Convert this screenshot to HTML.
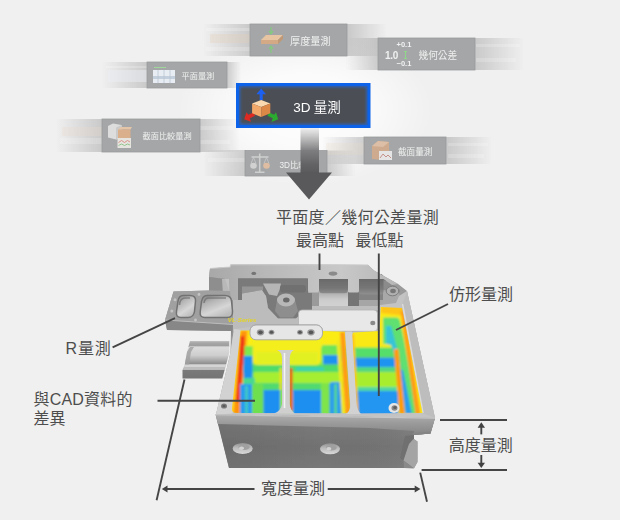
<!DOCTYPE html>
<html lang="zh-Hant"><head><meta charset="utf-8"><title>3D 量測</title>
<style>
html,body{margin:0;padding:0;background:#f0f0f0;}
#c{position:relative;width:620px;height:520px;overflow:hidden;background:#f0f0f0;}
svg{display:block;position:absolute;left:0;top:0;}
text{font-family:"Liberation Sans","Noto Sans CJK TC",sans-serif;}
.lb{font-size:16px;fill:#4d4d4d;}
.tl{font-size:10px;fill:#f0f0f0;filter:url(#b0);}
.ld{stroke:#454545;stroke-width:1.9;fill:none;}
</style></head><body><div id="c">
<svg width="620" height="520" viewBox="0 0 620 520">
<defs>
<radialGradient id="glow" cx="0.5" cy="0.5" r="0.5"><stop offset="0" stop-color="#fff" stop-opacity="1"/><stop offset="0.5" stop-color="#fff" stop-opacity="0.7"/><stop offset="1" stop-color="#fff" stop-opacity="0"/></radialGradient>
<linearGradient id="trL" x1="0" x2="1"><stop offset="0" stop-color="#9a9a9a" stop-opacity="0"/><stop offset="1" stop-color="#9a9a9a" stop-opacity="0.46"/></linearGradient>
<linearGradient id="trR" x1="0" x2="1"><stop offset="0" stop-color="#9a9a9a" stop-opacity="0.46"/><stop offset="1" stop-color="#9a9a9a" stop-opacity="0"/></linearGradient>
<linearGradient id="shaft" x1="0" x2="0" y1="0" y2="1"><stop offset="0" stop-color="#6a6a6c" stop-opacity="0"/><stop offset="0.12" stop-color="#808082" stop-opacity="0.25"/><stop offset="0.5" stop-color="#7c7c7e" stop-opacity="0.95"/><stop offset="0.8" stop-color="#636365" stop-opacity="1"/><stop offset="1" stop-color="#59595b" stop-opacity="1"/></linearGradient>
<filter id="b0" x="-10%" y="-10%" width="120%" height="120%"><feGaussianBlur stdDeviation="0.3"/></filter>
<filter id="b1" x="-10%" y="-10%" width="120%" height="120%"><feGaussianBlur stdDeviation="0.5"/></filter>
<filter id="b2" x="-10%" y="-10%" width="120%" height="120%"><feGaussianBlur stdDeviation="1.2"/></filter>
<filter id="b3" x="-20%" y="-20%" width="140%" height="140%"><feGaussianBlur stdDeviation="2.5"/></filter>
<marker id="ah" viewBox="0 0 10 10" refX="9" refY="5" markerWidth="7" markerHeight="7" orient="auto-start-reverse"><path d="M0,0.8 L10,5 L0,9.2 z" fill="#3c3c3c"/></marker>
</defs>
<rect width="620" height="520" fill="#f0f0f0"/>
<ellipse cx="305" cy="110" rx="128" ry="76" fill="url(#glow)"/>
<g id="tiles">
<!-- trails: faint stripes -->
<g filter="url(#b1)">
<!-- tile1 trails -->
<rect x="203" y="24" width="48" height="32" fill="url(#trL)"/>
<rect x="347" y="24" width="40" height="32" fill="url(#trR)"/>
<rect x="210" y="34" width="41" height="9" fill="#e6cdb2" opacity="0.3"/>
<rect x="206" y="28" width="44" height="3" fill="#fff" opacity="0.2"/>
<rect x="206" y="47" width="44" height="4" fill="#fff" opacity="0.18"/>
<!-- tile2 trails -->
<rect x="346" y="38" width="33" height="32" fill="url(#trL)"/>
<rect x="474" y="38" width="50" height="32" fill="url(#trR)"/>
<rect x="476" y="44" width="44" height="3" fill="#fff" opacity="0.18"/>
<rect x="476" y="58" width="40" height="4" fill="#fff" opacity="0.18"/>
<!-- tile3 trails -->
<rect x="102" y="62" width="46" height="26" fill="url(#trL)"/>
<rect x="227" y="62" width="14" height="26" fill="url(#trR)"/>
<rect x="108" y="70" width="40" height="12" fill="#e9eef4" opacity="0.5"/>
<rect x="106" y="66" width="42" height="2" fill="#fff" opacity="0.2"/>
<!-- tile4 trails -->
<rect x="56" y="119" width="47" height="33" fill="url(#trL)"/>
<rect x="200" y="119" width="40" height="33" fill="url(#trR)"/>
<rect x="62" y="127" width="41" height="9" fill="#ead8c6" opacity="0.28"/>
<rect x="60" y="138" width="44" height="6" fill="#fff" opacity="0.18"/>
<rect x="200" y="126" width="34" height="4" fill="#fff" opacity="0.18"/>
<rect x="200" y="140" width="30" height="4" fill="#fff" opacity="0.18"/>
<!-- tile5 trails -->
<rect x="203" y="150" width="43" height="26" fill="url(#trL)"/>
<rect x="327" y="150.500" width="28" height="25.500" fill="url(#trR)"/>
<rect x="208" y="158" width="38" height="4" fill="#fff" opacity="0.18"/>
<!-- tile6 trails -->
<rect x="322" y="137" width="43" height="27" fill="url(#trL)"/>
<rect x="446" y="137" width="46" height="27" fill="url(#trR)"/>
<rect x="326" y="143" width="39" height="12" fill="#ead6c2" opacity="0.22"/>
<rect x="448" y="143" width="40" height="3" fill="#fff" opacity="0.18"/>
<rect x="448" y="154" width="36" height="4" fill="#fff" opacity="0.18"/>
</g>
<!-- tile bodies -->
<g stroke="#9a9c9d" stroke-width="0.8" fill="#a4a6a7">
<rect x="250" y="24" width="97" height="32"/>
<rect x="378" y="38" width="97" height="32"/>
<rect x="147" y="62" width="80" height="26"/>
<rect x="102" y="119" width="98" height="33"/>
<rect x="245" y="150.500" width="82" height="25.500"/>
<rect x="364" y="137" width="82" height="27"/>
</g>
<!-- tile1 icon: slab + green arrows -->
<g filter="url(#b1)" opacity="0.9">
<path d="M261,40 L266,35 L283,35 L278,40 z" fill="#efc9a3"/>
<path d="M261,40 L278,40 L278,44 L261,44 z" fill="#d9ab82"/>
<path d="M278,40 L283,35 L283,39 L278,44 z" fill="#c4976f"/>
<path d="M271,27 v6 M269,31 l2,3 l2,-3" stroke="#7fcf7a" stroke-width="1.2" fill="none"/>
<path d="M271,53 v-6 M269,49 l2,-3 l2,3" stroke="#7fcf7a" stroke-width="1.2" fill="none"/>
</g>
<text class="tl" x="290" y="45.3" style="font-size:10.2px">厚度量測</text>
<!-- tile2 -->
<text class="tl" x="385" y="58.6" style="font-size:10px;font-weight:bold;letter-spacing:-0.3px">1.0</text>
<text class="tl" x="396.5" y="47.2" style="font-size:7.5px;font-weight:bold">+0.1</text>
<text class="tl" x="396.5" y="66" style="font-size:7.5px;font-weight:bold">−0.1</text>
<path d="M405.5,51.5 v7 M404,51.5 h3 M404,58.5 h3" stroke="#8fd68a" stroke-width="1" fill="none"/>
<text class="tl" x="418.5" y="59" style="font-size:9.7px">幾何公差</text>
<!-- tile3 icon -->
<g filter="url(#b1)">
<rect x="153" y="70" width="22" height="13" fill="#e8edf3"/>
<rect x="153" y="76" width="22" height="3" fill="#c3cfdd"/>
<path d="M154,67.5 h12" stroke="#9fd89a" stroke-width="1"/>
<path d="M158,70 v13 M164,70 v13 M170,70 v13" stroke="#b9c4d0" stroke-width="0.8"/>
</g>
<text class="tl" x="181.5" y="79" style="font-size:8.2px">平面量測</text>
<!-- tile4 icon -->
<g filter="url(#b1)" opacity="0.9">
<path d="M108,126 L113,123.500 L121.500,125 L121.500,137 L116,139.500 L108,137.500 z" fill="#e4e4e4"/>
<path d="M116,127.500 L121.500,125 L121.500,137 L116,139.500 z" fill="#cfcfcf"/>
<path d="M118,129.500 L121,127 L132,127 L130.500,129.500 z" fill="#edc9a8"/>
<rect x="118" y="129.500" width="12.500" height="10" fill="#dfb08a"/>
<rect x="117.500" y="138" width="13.500" height="10" fill="#eeebe6"/>
<path d="M118.500,142.500 l3,-2 l3,2 l3,-2 l2.500,1.500" stroke="#dc857c" stroke-width="0.900" fill="none"/>
<path d="M118.500,145.500 l3,-1.500 l3,1.500 l3,-1.500 l2.500,1" stroke="#86c581" stroke-width="0.900" fill="none"/>
</g>
<text class="tl" x="142.5" y="139" style="font-size:8.2px">截面比較量測</text>
<!-- tile5 icon: balance -->
<g filter="url(#b1)" stroke="#d4d4d4" fill="none" stroke-width="1.500" opacity="0.9">
<path d="M259.700,153.500 v18 M255,172.300 h9.500 M251.500,157 h17"/>
<path d="M253.500,157.500 l-2.500,6 M253.500,157.500 l2.500,6 M266.500,157.500 l-2.500,6 M266.500,157.500 l2.500,6" stroke-width="0.700"/>
<ellipse cx="253.500" cy="165.800" rx="3.300" ry="3" fill="#d6d6d6" stroke="none"/>
<ellipse cx="266.500" cy="165.800" rx="3.300" ry="3" fill="#e6c0a2" stroke="none"/>
</g>
<text class="tl" x="279.5" y="168" style="font-size:8.2px">3D比較</text>
<!-- tile6 icon -->
<g filter="url(#b1)" opacity="0.85">
<path d="M372,146 l6,-5 l11,1 v13 l-6,5 l-11,-1 z" fill="#d6ad8a"/>
<path d="M372,146 l11,1 l6,-5 l-11,-1 z" fill="#e6c4a6"/>
<rect x="379" y="151" width="13" height="9" fill="#f1f1f1"/>
<path d="M380,158 l3,-4 l3,3 l2,-2 l3,3" stroke="#c9827a" stroke-width="0.9" fill="none"/>
</g>
<text class="tl" x="398" y="155.2" style="font-size:8.6px">截面量測</text>
</g>
<g id="arrow">
<rect x="300.5" y="126" width="18.5" height="48" fill="url(#shaft)"/>
<path d="M286,172.5 L332,172.5 L309,199.5 z" fill="#59595b"/>
</g>
<g id="tile3d">
<rect x="236" y="83" width="134.5" height="45" fill="#0d63ea"/>
<rect x="239" y="86" width="128.5" height="39" fill="#2f5fae"/>
<rect x="240.5" y="87.5" width="125.500" height="36" rx="2" fill="#4b5054" filter="url(#b2)"/>
<rect x="245" y="92" width="116.500" height="27" fill="#4b5054" filter="url(#b1)"/>
<!-- icon -->
<g filter="url(#b1)">
<path d="M261.200,88.400 L256.400,94.200 L259.700,94.200 L259.700,100 L262.700,100 L262.700,94.200 L266,94.200 z" fill="#1c60f2"/>
<path d="M244.200,119.200 L246.500,112.300 L248.300,114.800 L253.500,112.600 L255,115.800 L249.800,118.200 L251,121.800 z" fill="#dc2a22"/>
<path d="M278.200,119.200 L276,112.300 L274.200,114.800 L269,112.600 L267.500,115.800 L272.700,118.200 L271.500,122 z" fill="#2aaa2e"/>
<path d="M252.100,103.600 L261.200,99.900 L270.300,103.600 L261.200,107 z" fill="#fbd9b0"/>
<path d="M252.100,103.600 L261.200,107 L261.200,117 L252.100,113.300 z" fill="#f2a868"/>
<path d="M270.300,103.600 L261.200,107 L261.200,117 L270.300,113.300 z" fill="#de8846"/>
</g>
<text x="293.200" y="112.400" style="font-size:13.500px;fill:#fff;word-spacing:-0.500px">3D 量測</text>
</g>
<g id="part">
<defs>
<linearGradient id="gTop" x1="0" x2="1"><stop offset="0" stop-color="#a8a8a8"/><stop offset="0.3" stop-color="#b8b8b8"/><stop offset="0.7" stop-color="#c8c8c8"/><stop offset="1" stop-color="#b6b6b6"/></linearGradient>
<linearGradient id="gPipe" x1="0" x2="1"><stop offset="0" stop-color="#bdbdbd"/><stop offset="0.12" stop-color="#dedede"/><stop offset="0.3" stop-color="#a8a8a8"/><stop offset="0.55" stop-color="#7a7a7a"/><stop offset="0.8" stop-color="#b5b5b5"/><stop offset="1" stop-color="#8f8f8f"/></linearGradient>
<linearGradient id="gPipeV" gradientUnits="userSpaceOnUse" x1="0" x2="0" y1="341" y2="378.400"><stop offset="0" stop-color="#acacac"/><stop offset="0.15" stop-color="#9c9c9c"/><stop offset="0.16" stop-color="#dcdcdc"/><stop offset="0.38" stop-color="#cfcfcf"/><stop offset="0.62" stop-color="#8c8c8c"/><stop offset="0.63" stop-color="#cdcdcd"/><stop offset="0.77" stop-color="#b0b0b0"/><stop offset="0.78" stop-color="#7a7a7a"/><stop offset="1" stop-color="#747474"/></linearGradient>
<linearGradient id="gFace" x1="0" x2="0" y1="0" y2="1"><stop offset="0" stop-color="#808080"/><stop offset="0.2" stop-color="#7a7a7a"/><stop offset="0.6" stop-color="#727272"/><stop offset="1" stop-color="#787878"/></linearGradient>
<linearGradient id="gFaceH" x1="0" x2="1"><stop offset="0" stop-color="#000" stop-opacity="0.07"/><stop offset="0.5" stop-color="#000" stop-opacity="0"/><stop offset="1" stop-color="#fff" stop-opacity="0.08"/></linearGradient>
<linearGradient id="gBand" gradientUnits="userSpaceOnUse" x1="0" x2="0" y1="415" y2="432"><stop offset="0" stop-color="#adadad"/><stop offset="0.5" stop-color="#9a9a9a"/><stop offset="1" stop-color="#8a8a8a"/></linearGradient>
<linearGradient id="gRec" gradientUnits="userSpaceOnUse" x1="0" x2="0" y1="279" y2="294"><stop offset="0" stop-color="#6a6a6a"/><stop offset="0.6" stop-color="#767676"/><stop offset="1" stop-color="#8e8e8e"/></linearGradient>
<linearGradient id="gFl" gradientUnits="userSpaceOnUse" x1="0" x2="0" y1="293" y2="310"><stop offset="0" stop-color="#b0b0b0"/><stop offset="0.4" stop-color="#cdcdcd"/><stop offset="1" stop-color="#d4d4d4"/></linearGradient>
<linearGradient id="gHole" x1="0" x2="0" y1="0" y2="1"><stop offset="0" stop-color="#909090"/><stop offset="0.45" stop-color="#bcbcbc"/><stop offset="1" stop-color="#d8d8d8"/></linearGradient>
<linearGradient id="gPk" x1="0" x2="0.6" y1="0" y2="1"><stop offset="0" stop-color="#7c7c7c"/><stop offset="0.35" stop-color="#b4b4b4"/><stop offset="0.7" stop-color="#d6d6d6"/><stop offset="1" stop-color="#bcbcbc"/></linearGradient>
<clipPath id="cpL"><path d="M240.500,330.500 L322,331 L344.800,331.800 L350.800,413.300 L236,413 Q231.500,413 232,408 z"/></clipPath>
<clipPath id="cpR"><path d="M354,332.500 L379.600,331 L380.800,307 L402,308 L408,338 L422.500,413 L360,413.500 Q356.500,413 356.300,409 L352,337 Q352,332.500 354,332.500 z"/></clipPath>
</defs>
<g filter="url(#b1)">
<!-- silhouette base -->
<path d="M210,268.500 L230,267 L231,264.500 L368,265 L374,270.500 L398,284 L407,291 L435,418 L430.500,433.500 L414,435 L414,439 L417.500,441.600 L417.500,462 L414,468 L229,468 L216,414.500 L230.500,352.700 L231,331 L167,330 L165,320 L173.500,291.500 L209,290.500 L209,277 z" fill="#9a9a9a"/>
<!-- back block: recess walls -->
<rect x="236" y="277" width="150" height="18" fill="#757575"/>
<path d="M381,279 L392,284 L400,290 L398,300 L381,300 z" fill="#8b8b8b"/>
<!-- floors below recesses -->
<rect x="319" y="288" width="30" height="22.500" fill="url(#gFl)"/>
<rect x="359" y="288" width="24" height="20" fill="#838383"/>
<path d="M383,290 L399,292 L402,308 L383,308 z" fill="#a8a8a8"/>
<rect x="308" y="292" width="11" height="18" fill="#9a9a9a"/>
<rect x="348" y="292" width="11" height="14.500" fill="#747474"/>
<rect x="300" y="293" width="9" height="17" fill="#8d8d8d"/>
<rect x="319" y="274" width="29" height="19.300" rx="3.500" fill="url(#gRec)"/>
<rect x="359" y="274" width="24.500" height="20.500" rx="3.500" fill="url(#gRec)"/>
<path d="M359,300 H383 V308 H359 z" fill="#a6a6a6"/>
<rect x="299" y="306" width="84" height="4.500" fill="#bebebe"/>
<!-- top surface with teeth -->
<path d="M210,268.500 L230,267 L231,264.500 L368,265 L374,270.500 L398,284 L392,285 L383.500,279 L359,279 L359,291 Q359,292.500 357.500,292.500 L349.500,292.500 Q348,292.500 348,291 L348,279 L319,279 L319,291 Q319,292.500 317.500,292.500 L309.500,292.500 Q308,292.500 308,291 L308,278.500 L238,278.500 L238,300 L229,300 L225,279 L209,277 z" fill="url(#gTop)"/>
<path d="M210,268.500 L230,267 L231,264.500 L368,265" stroke="#c9c9c9" stroke-width="1.200" fill="none"/>
<ellipse cx="253.800" cy="273.400" rx="2.400" ry="1.600" fill="#757575"/>
<ellipse cx="333" cy="273.600" rx="4.300" ry="2.100" fill="#8a8a8a"/>
<!-- block left end face -->
<path d="M209,277 L225,279 L229,291 L209,290.500 z" fill="#8e8e8e"/>
<!-- lug right -->
<ellipse cx="392.500" cy="291" rx="6.300" ry="4.800" fill="#b0b0b0" stroke="#7c7c7c" stroke-width="1"/>
<ellipse cx="393" cy="291" rx="2.800" ry="2.200" fill="#777"/>
<!-- mid-left section -->
<path d="M238,278.500 L307.500,278.500 L307.500,293 L312,293 L312,311 L304,311 L296,318.500 L278,318.500 L268,308 L266,296 L262,290 L242,293 L242,300 L238,300 z" fill="#7a7a7a"/>
<path d="M242,286.500 L263,286.500 L263,290 L242,293.500 z" fill="#959595"/>
<path d="M263,283.500 L281,283.500 L279.500,290 L277,296 L269,294.500 z" fill="#b6b6b6"/>
<rect x="280" y="285" width="26" height="7.500" rx="3" fill="#707070"/>
<path d="M277,300 L295,300 L298,311 L293,317.500 L280,317.500 L275,311 z" fill="#8e8e8e"/>
<ellipse cx="286" cy="300" rx="9" ry="6.500" fill="#b8b8b8"/>
<ellipse cx="286.300" cy="300" rx="3.300" ry="2.500" fill="#6a6a6a"/>
<!-- plateau VL -->
<path d="M233,300 L242,300 L242,293.500 L262,290 L266,296 L268,308 L278,318.500 L296,318.500 L304,311 L312,311 L312,326 L300,327.500 L255,326.500 L240,331 L233,331 z" fill="#bcbcbc"/>
<path d="M222,279 L229,279 L230,312 L224,312 z" fill="#cacaca" opacity="0.700"/>
<!-- left tab -->
<path d="M173.500,291.500 L209,290.500 L230,291 L233,324.500 L165,320 z" fill="#a0a0a0"/>
<path d="M165,320 L233,324.500 L232,338 L231,331 L167,330 z" fill="#878787"/>
<path d="M165,320 L233,324.500" stroke="#bdbdbd" stroke-width="1"/>
<path d="M183,295.500 L190,295.500 Q196,295.500 195.500,301 L194.500,311.500 Q193.500,317.500 188,317.500 L181,317.500 Q175.500,317.500 176.500,311.500 L178,301 Q179,295.500 183,295.500 z" fill="url(#gPk)" stroke="#727272" stroke-width="1.500"/>
<path d="M179.500,305 Q180,298 185,298 L190,298" stroke="#6c6c6c" stroke-width="1.600" fill="none" opacity="0.700"/>
<path d="M207,295.500 L225,295.500 Q231,295.500 231.500,301 L232.500,311 Q233,317.500 227,317.500 L205,317.500 Q199.500,317.500 200.200,312 L201.500,301.500 Q202.500,295.500 207,295.500 z" fill="url(#gPk)" stroke="#727272" stroke-width="1.500"/>
<path d="M204,303 Q204.500,298 209,298 L226,298" stroke="#6c6c6c" stroke-width="1.600" fill="none" opacity="0.700"/>
<circle cx="175" cy="299.700" r="1.500" fill="#c4c4c4"/><circle cx="171.800" cy="311" r="1.500" fill="#c4c4c4"/><circle cx="199" cy="294.500" r="1.400" fill="#c4c4c4"/><circle cx="195.500" cy="320" r="1.400" fill="#c4c4c4"/>
<!-- half pipe -->
<path d="M190,341 L229.200,341 L229.200,353 L226,365 L222.300,378.400 L182.500,378.400 L182.500,370 L184.800,364.600 L187,352 z" fill="url(#gPipeV)"/>
<path d="M189.300,346.600 H229" stroke="#d0d0d0" stroke-width="0.900"/>
<path d="M190,341.700 H229" stroke="#c2c2c2" stroke-width="0.900"/>
<path d="M184.500,366 H225.500" stroke="#dadada" stroke-width="1.300"/>
<path d="M183.500,369 H224.500" stroke="#c4c4c4" stroke-width="1"/>
<path d="M190,347 L187,352 L184.800,364.600 L189,364.600 L191,352 L194,347 z" fill="#a0a0a0" opacity="0.800"/>
<!-- main rim top -->
<path d="M234,329 L230.500,352.700 L216,414.500 L435,418 L407,291 L399,296 L396,303 L380,305 L378,330 L346,332 L322,327 L250,327 z" fill="#c3c3c3"/>
<path d="M407,291 L435,418 L422,413 L401.500,307 z" fill="#bdbdbd"/>
<path d="M234,329 L230.500,352.700 L216,414.500 L232.500,413.500 L241,330 z" fill="#d2d2d2"/>
<path d="M402.500,304 L423,413" stroke="#dadada" stroke-width="1.600"/>
<!-- upper light plate -->
<rect x="298.500" y="310" width="79" height="21.300" rx="3.500" fill="#e8e8e8" stroke="#b4b4b4" stroke-width="0.800"/>
<ellipse cx="372.800" cy="323" rx="2.600" ry="2.200" fill="#8a8a8a"/>
<!-- 4-hole plate -->
<rect x="250" y="325" width="72.500" height="14.800" rx="6" fill="#e6e6e6" stroke="#a4a4a4" stroke-width="0.900"/>
<ellipse cx="260.500" cy="332.300" rx="3.700" ry="3.100" fill="#9a9a9a"/><ellipse cx="260.500" cy="332.300" rx="2.300" ry="1.900" fill="#565656"/><ellipse cx="271.500" cy="332.300" rx="2.900" ry="2.500" fill="#9a9a9a"/><ellipse cx="271.500" cy="332.300" rx="1.800" ry="1.500" fill="#565656"/><ellipse cx="300" cy="332.300" rx="2.900" ry="2.500" fill="#9a9a9a"/><ellipse cx="300" cy="332.300" rx="1.800" ry="1.500" fill="#565656"/><ellipse cx="311" cy="332.300" rx="3.700" ry="3.100" fill="#9a9a9a"/><ellipse cx="311" cy="332.300" rx="2.300" ry="1.900" fill="#565656"/>
</g>
<text x="227.800" y="322" style="font-size:6.200px;font-style:italic;font-weight:bold;fill:#e2d226" filter="url(#b0)">VL-Series</text>
<g id="colors">
<!-- LEFT POCKET -->
<g clip-path="url(#cpL)"><g filter="url(#b2)">
<rect x="225" y="325" width="130" height="95" fill="#86e640"/>
<!-- yellow top -->
<rect x="236" y="326" width="112" height="21" fill="#fbec14"/>
<path d="M252.500,338 L321,338 L321,359 Q321,365 315,365 L259,365 Q252.500,365 252.500,359 z" fill="#f3ee1c"/>
<path d="M256,352 L318,352 L318,361 Q318,364 314,364 L260,364 Q256,364 256,361 z" fill="#e2f022"/>
<!-- left wall yellow/orange/red -->
<path d="M239,329 L249,329 L244,380 L242,414 L229,414 z" fill="#ffd21a"/>
<path d="M241,331 L247,331 L240.500,414 L233.500,414 z" fill="#ff9210"/>
<path d="M240.500,336 L244.300,336 L244.300,352 L239.500,402 L236,402 z" fill="#ee3416"/>
<!-- green band -->
<rect x="243" y="365" width="101" height="8" fill="#4edc6a"/>
<rect x="254" y="372" width="88" height="11" fill="#a6ee30"/>
<rect x="243" y="378" width="12" height="6" fill="#48d890"/>
<rect x="243" y="383" width="101" height="8" fill="#52da6e"/>
<!-- bottom row -->
<rect x="240" y="384" width="12" height="32" fill="#2a9cee"/>
<rect x="245.500" y="386" width="2" height="30" fill="#48d8b0"/>
<rect x="252" y="384" width="11" height="32" fill="#6ee050"/>
<rect x="263.400" y="390" width="16.600" height="26" fill="#1e8ff0"/>
<rect x="293" y="390" width="28" height="26" fill="#1e8ff0"/>
<rect x="321" y="383" width="8.500" height="33" fill="#7ee448"/>
<rect x="329.500" y="382" width="12" height="34" rx="3" fill="#2a9eee"/>
<rect x="334.500" y="384" width="2.200" height="32" fill="#5fe07a"/>
<!-- right upper -->
<rect x="322" y="345" width="21" height="9" fill="#6ee458"/>
<rect x="323" y="355" width="18.500" height="9.500" fill="#1e92f0"/>
<rect x="296" y="367.500" width="28" height="3" fill="#38d0c0"/>
<!-- left column -->
<rect x="244.500" y="346" width="8" height="10" fill="#7ce850"/>
<rect x="243.500" y="356" width="9" height="22" fill="#1e90f0"/>
<rect x="243" y="378" width="10" height="6" fill="#48d890"/>
<!-- strips at I rib -->
<rect x="289.500" y="368" width="3" height="43" fill="#f04a18"/>
<rect x="279.500" y="368" width="2.500" height="22" fill="#e8e020"/>
<!-- right wall orange -->
<path d="M336.500,340 L340,340 L346,414 L342,414 z" fill="#f3e81e"/>
<path d="M340,332 L345,332 L351,414 L345.500,414 z" fill="#ff9c12"/>
</g></g>
<!-- RIGHT POCKET -->
<g clip-path="url(#cpR)"><g filter="url(#b2)">
<rect x="345" y="300" width="90" height="120" fill="#fbe916"/>
<path d="M381,306 L404,306 L407,316 L381,313 z" fill="#ffc418"/>
<!-- sub pocket -->
<path d="M353,347.300 L389,347.300 Q394.600,347.300 395,353 L398,414 L356,414 z" fill="#8fe83a"/>
<rect x="353" y="348" width="42" height="9" fill="#56de6a"/>
<rect x="353" y="357.500" width="42.500" height="9.500" fill="#1e94f0"/>
<rect x="353" y="367" width="43" height="5" fill="#4fd880"/>
<rect x="353" y="372" width="43.500" height="15" fill="#a8ee2e"/>
<rect x="353" y="387" width="44" height="4" fill="#4fd8a0"/>
<rect x="353" y="391" width="45" height="24" fill="#2496f0"/>
<!-- left wall of right pocket -->
<path d="M351,334 L354,334 L358.500,414 L355.500,414 z" fill="#ffc020"/>
<!-- channel interior -->
<path d="M383,317.500 L397,317.500 Q399.500,318 400,321 L404,340 L417,414 L399,414 L396.500,352 L392,344 L383,344 z" fill="#5ee070"/>
<path d="M386,326 L391,326 L398,352 L411,414 L405,414 L397.500,365 L391,345 L386,344 z" fill="#34c4d8"/>
<path d="M399.500,370 L403,370 L412,414 L406,414 z" fill="#2a9cee"/>
<path d="M393.700,349 L398.500,349 L405,414 L399.500,414 z" fill="#ff9a10"/>
<path d="M400.500,311 L404.500,311 L420.500,414 L415.500,414 z" fill="#ff9e14"/>
</g></g>
</g>
<g filter="url(#b1)">
<!-- 4-hole plate redraw on top of color -->
<rect x="250" y="325" width="72.500" height="14.800" rx="6" fill="#e6e6e6" stroke="#a4a4a4" stroke-width="0.900"/>
<ellipse cx="260.500" cy="332.300" rx="3.700" ry="3.100" fill="#9a9a9a"/><ellipse cx="260.500" cy="332.300" rx="2.300" ry="1.900" fill="#565656"/><ellipse cx="271.500" cy="332.300" rx="2.900" ry="2.500" fill="#9a9a9a"/><ellipse cx="271.500" cy="332.300" rx="1.800" ry="1.500" fill="#565656"/><ellipse cx="300" cy="332.300" rx="2.900" ry="2.500" fill="#9a9a9a"/><ellipse cx="300" cy="332.300" rx="1.800" ry="1.500" fill="#565656"/><ellipse cx="311" cy="332.300" rx="3.700" ry="3.100" fill="#9a9a9a"/><ellipse cx="311" cy="332.300" rx="2.300" ry="1.900" fill="#565656"/>
<!-- I rib -->
<path d="M277,350 L294,350 Q290,352 289.800,358 L289.800,404 Q290.500,411 295,413.500 L274,413.500 Q281,411 282,404 L282,358 Q282,352 277,350 z" fill="#cfcfcf"/>
<path d="M284.500,353 L284.500,408" stroke="#f4f4f4" stroke-width="1.600"/>
<!-- divider rib -->
<path d="M345.300,331.500 L352,331.500 L356.500,404 Q357.500,411 361,414 L346,414 Q350.500,411 350.300,404 z" fill="#d2d2d2"/>
<!-- screws -->
<ellipse cx="224" cy="406" rx="3" ry="2.600" fill="#7a7a7a"/><ellipse cx="224" cy="406" rx="1.600" ry="1.300" fill="#5a5a5a"/>
<ellipse cx="394" cy="408" rx="5.500" ry="5" fill="#e6e6e6"/><ellipse cx="394.500" cy="408" rx="3" ry="2.800" fill="#8a8a8a"/><ellipse cx="395" cy="407.500" rx="1.700" ry="1.500" fill="#5d5d5d"/>
<!-- front: rim strip + face -->
<path d="M215.600,414.500 L435,418 L430.500,433.500 L414,435 L414,468 L229,468 z" fill="url(#gFace)"/>
<path d="M215.600,414.500 L435,418 L430.500,433.500 L414,435 L414,468 L229,468 z" fill="url(#gFaceH)"/>
<path d="M215.600,414.500 L435,418 L430.500,433.500 L414,435 L414,431 L370,428 L217.800,424 z" fill="url(#gBand)"/>
<path d="M215.600,414.700 L435,418.200" stroke="#c6c6c6" stroke-width="1.300" fill="none"/>
<path d="M414,435 L430.500,433.500 L431,431.500 L412,433 z" fill="#858585"/>
<path d="M405,436 L414,435 L414,445 L409,444 L403.500,460.500 L400,458 z" fill="#6c6c6c" opacity="0.700"/>
<!-- foot -->
<path d="M413.400,439 L417.500,441.600 L417.500,462 L414,468.500 L403.500,460.500 L409,444 z" fill="#a4a4a4"/>
<path d="M403.500,460.500 L414,468.500 L404,468 z" fill="#8a8a8a"/>
<!-- holes in face -->
<ellipse cx="242.700" cy="448.400" rx="10" ry="5.500" fill="url(#gHole)"/><ellipse cx="244" cy="447.300" rx="5.500" ry="2.800" fill="#a0a0a0"/><ellipse cx="241.500" cy="448.300" rx="2.500" ry="1.800" fill="#d2d2d2"/>
<ellipse cx="330" cy="448.800" rx="10" ry="5.500" fill="url(#gHole)"/><ellipse cx="331.300" cy="447.700" rx="5.500" ry="2.800" fill="#a0a0a0"/><ellipse cx="328.800" cy="448.700" rx="2.500" ry="1.800" fill="#d2d2d2"/>
</g>
</g>
<g id="labels">
<g class="ld">
<path d="M319.500,253.500 V270"/>
<path d="M378.800,253.500 V396"/>
<path d="M396,330 L448,304"/>
<path d="M112.600,347.300 L175,318.200"/>
<path d="M157.500,400.800 H255"/>
<path d="M184.500,379.500 L156.600,500.300"/>
<path d="M420.200,472.600 L427,501.800"/>
<path d="M440,420 H507"/>
<path d="M421.600,470 H507"/>
<path d="M166,489 H254.500"/>
<path d="M327.700,489 H416"/>
<path d="M481.300,426 V434.400"/>
<path d="M481.300,455 V464.500"/>
</g>
<g fill="#424242">
<path d="M161.800,489 L167.500,485.400 L167.500,492.600 z"/>
<path d="M420.500,489 L414.700,485.400 L414.700,492.600 z"/>
<path d="M481.300,422.300 L477.600,427.800 L485,427.800 z"/>
<path d="M481.300,468 L477.600,462.700 L485,462.700 z"/>
</g>
<text class="lb" x="276" y="223.300" style="letter-spacing:0.3px">平面度／幾何公差量測</text>
<text class="lb" x="296" y="246.300">最高點</text>
<text class="lb" x="355.500" y="246.300">最低點</text>
<text class="lb" x="449" y="299.800">仿形量測</text>
<text class="lb" x="65.500" y="353.500" style="letter-spacing:0.9px">R量測</text>
<text class="lb" x="33.500" y="405.200" style="letter-spacing:0.2px">與CAD資料的</text>
<text class="lb" x="33.500" y="423.800">差異</text>
<text class="lb" x="448.700" y="450.800">高度量測</text>
<text class="lb" x="261" y="493.800">寬度量測</text>
</g>
</svg>
</div></body></html>
